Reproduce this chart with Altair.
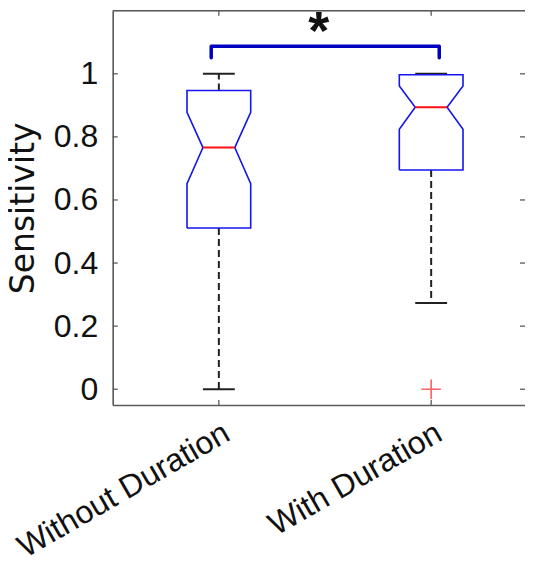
import altair as alt
import pandas as pd

# ---- data ----
categories = ["Without Duration", "With Duration"]
positions = [1, 2]
upper_whisker = [1.0, 1.0]
q3 = [0.947, 0.997]
notch_hi = [0.878, 0.961]
median = [0.766, 0.894]
notch_lo = [0.652, 0.824]
q1 = [0.511, 0.695]
lower_whisker = [0.0, 0.273]
outlier_pos = [2]
outlier_val = [0.0]
ytick_values = [0, 0.2, 0.4, 0.6, 0.8, 1]
sig_left, sig_right = 0.964, 2.038
sig_top, sig_drop = 1.087, 1.051
star_x, star_y = 1.470, 1.144

# ---- style ----
W, H = 412.3, 394.3
BOX_HALF = 0.15
NOTCH_HALF = 0.075
CAP_HALF = 0.075
FONT = "Liberation Sans"
FRAME = "#5a5a5a"

xscale = alt.Scale(domain=[0.5, 2.442], nice=False, zero=False)
yscale = alt.Scale(domain=[-0.05, 1.2], nice=False, zero=False)
label_expr = "datum.value == 1 ? '%s' : (datum.value == 2 ? '%s' : '')" % tuple(categories)
xaxis = alt.Axis(values=positions, labelExpr=label_expr, title=None, grid=False,
                 ticks=False, labelAngle=330, labelAlign="right", labelBaseline="top",
                 labelPadding=12, labelFontSize=32, labelFont=FONT, labelColor="#111",
                 domainColor=FRAME, domainWidth=1.6, labelFlush=False, labelOverlap=False,
                 labelBound=False, labelLimit=0)
yaxis = alt.Axis(values=ytick_values, format="~g", title="Sensitivity", grid=False,
                 ticks=False, labelPadding=15, labelFontSize=32, labelFont=FONT,
                 labelColor="#111", titleFont="DejaVu Sans", titleFontSize=33,
                 titleFontWeight="normal", titleColor="#111", titleX=-79,
                 titleBaseline="alphabetic", domainColor=FRAME, domainWidth=1.6,
                 labelFlush=False, labelOverlap=False)


def X(f):
    return alt.X(f, type="quantitative", scale=xscale, axis=xaxis)


def Y(f):
    return alt.Y(f, type="quantitative", scale=yscale, axis=yaxis)


# notched box outlines
rows = []
for i, p in enumerate(positions):
    pts = [
        (p - BOX_HALF, q1[i]), (p - BOX_HALF, notch_lo[i]), (p - NOTCH_HALF, median[i]),
        (p - BOX_HALF, notch_hi[i]), (p - BOX_HALF, q3[i]), (p + BOX_HALF, q3[i]),
        (p + BOX_HALF, notch_hi[i]), (p + NOTCH_HALF, median[i]), (p + BOX_HALF, notch_lo[i]),
        (p + BOX_HALF, q1[i]), (p - BOX_HALF, q1[i]),
    ]
    for k, (x, y) in enumerate(pts):
        rows.append({"box": categories[i], "x": x, "y": y, "o": k})
box_df = pd.DataFrame(rows)

stats = pd.DataFrame({
    "cat": categories, "p": positions, "uw": upper_whisker, "q3": q3, "med": median,
    "q1": q1, "lw": lower_whisker,
})
stats["ml"] = stats["p"] - NOTCH_HALF
stats["mr"] = stats["p"] + NOTCH_HALF
stats["cl"] = stats["p"] - CAP_HALF
stats["cr"] = stats["p"] + CAP_HALF

boxes = alt.Chart(box_df).mark_line(color="#1515f0", strokeWidth=1.6).encode(
    x=X("x"), y=Y("y"), order="o:Q", detail="box:N")

whisk_up = alt.Chart(stats).mark_rule(color="#222", strokeWidth=2, strokeDash=[7, 4]).encode(
    x=X("p"), y=Y("q3"), y2="uw")
whisk_lo = alt.Chart(stats).mark_rule(color="#222", strokeWidth=2, strokeDash=[7, 4]).encode(
    x=X("p"), y=Y("q1"), y2="lw")
cap_up = alt.Chart(stats).mark_rule(color="#222", strokeWidth=2).encode(
    x=X("cl"), x2="cr", y=Y("uw"))
cap_lo = alt.Chart(stats).mark_rule(color="#222", strokeWidth=2).encode(
    x=X("cl"), x2="cr", y=Y("lw"))
med_line = alt.Chart(stats).mark_rule(color="#ff1010", strokeWidth=2).encode(
    x=X("ml"), x2="mr", y=Y("med"))

out_df = pd.DataFrame({"p": outlier_pos, "v": outlier_val})
outliers = alt.Chart(out_df).mark_point(
    shape="M-1,0L1,0M0,-1L0,1", size=380, filled=False, color="#ff2020", strokeWidth=1.6
).encode(x=X("p"), y=Y("v"))

sig_df = pd.DataFrame({
    "x": [sig_left, sig_left, sig_right, sig_right],
    "y": [sig_drop, sig_top, sig_top, sig_drop],
    "o": [0, 1, 2, 3],
})
bracket = alt.Chart(sig_df).mark_line(color="#0000c0", strokeWidth=3.5, strokeJoin="round",
                                      strokeCap="round").encode(x=X("x"), y=Y("y"), order="o:Q")
star = alt.Chart(pd.DataFrame({"x": [star_x], "y": [star_y], "t": ["*"]})).mark_text(
    fontSize=54, font=FONT, fontWeight="bold", baseline="alphabetic", dy=21, color="#111"
).encode(x=X("x"), y=Y("y"), text="t:N")

# frame pieces and inward ticks
ytk = pd.DataFrame({"v": ytick_values})
xtk = pd.DataFrame({"p": positions})
top_border = alt.Chart(ytk.head(1)).mark_rule(color=FRAME, strokeWidth=1.6).encode(
    x=alt.value(0), x2=alt.value(W), y=alt.value(0))
lt = alt.Chart(ytk).mark_rule(color=FRAME, strokeWidth=1.3).encode(
    y=Y("v"), x=alt.value(0), x2=alt.value(5))
rt = alt.Chart(ytk).mark_rule(color=FRAME, strokeWidth=1.3).encode(
    y=Y("v"), x=alt.value(W - 5), x2=alt.value(W))
bt = alt.Chart(xtk).mark_rule(color=FRAME, strokeWidth=1.3).encode(
    x=X("p"), y=alt.value(H), y2=alt.value(H - 5))
tt = alt.Chart(xtk).mark_rule(color=FRAME, strokeWidth=1.3).encode(
    x=X("p"), y=alt.value(0), y2=alt.value(5))

chart = alt.layer(
    whisk_up, whisk_lo, cap_up, cap_lo, boxes, med_line, outliers, bracket, star,
    top_border, lt, rt, bt, tt,
).properties(
    width=W, height=H,
    padding={"left": 104.7, "top": 2.7, "right": 0, "bottom": 155},
    autosize=alt.AutoSizeParams(type="none"),
).configure_view(stroke=None).configure(background="white")

chart.save("out.html", embed_options={"renderer": "svg", "actions": False})
